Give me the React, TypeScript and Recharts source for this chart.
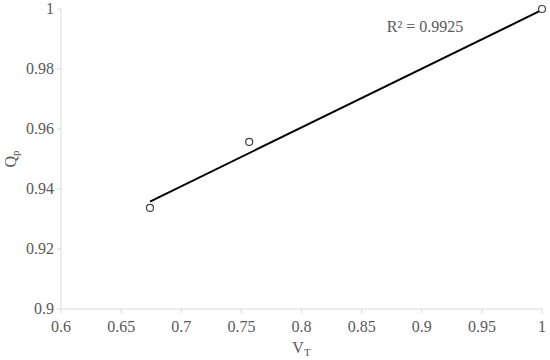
import { ScatterChart, Scatter, XAxis, YAxis, ReferenceDot } from "recharts";

const vT = [0.674, 0.7565, 1.0];
const qP = [0.9337, 0.9557, 1.0];
const trendX = [0.674, 1.0];
const trendY = [0.9358, 0.9997];
const xTicks = [0.6, 0.65, 0.7, 0.75, 0.8, 0.85, 0.9, 0.95, 1];
const yTicks = [0.9, 0.92, 0.94, 0.96, 0.98, 1];

const points = vT.map((x, i) => ({ x, y: qP[i] }));
const trend = trendX.map((x, i) => ({ x, y: trendY[i] }));

const font = "Liberation Serif";
const textColor = "#595959";
const axisColor = "#d9d9d9";
const fs = 16;

function XTick(props: any) {
  const { x, y, payload } = props;
  return (
    <text x={x} y={y + 17} textAnchor="middle" fill={textColor} fontFamily={font} fontSize={fs}>
      {String(payload.value)}
    </text>
  );
}

function YTick(props: any) {
  const { x, y, payload } = props;
  return (
    <text x={x - 1} y={y + 5} textAnchor="end" fill={textColor} fontFamily={font} fontSize={fs}>
      {String(payload.value)}
    </text>
  );
}

function Circle(props: any) {
  const { cx, cy } = props;
  return <circle cx={cx} cy={cy} r={3.5} fill="#fff" stroke="#404040" strokeWidth={1.2} />;
}

export default function App() {
  return (
    <div style={{ position: "absolute", left: 0, top: 0, width: 550, height: 360, background: "#fff" }}>
      <ScatterChart width={550} height={360} margin={{ top: 9, right: 8, bottom: 0, left: 0 }}>
        <XAxis
          type="number"
          dataKey="x"
          domain={[0.6, 1]}
          ticks={xTicks}
          height={51}
          stroke={axisColor}
          tickSize={4}
          tick={<XTick />}
          label={(p: any) => {
            const vb = p.viewBox;
            const cx = vb.x + vb.width / 2;
            return (
              <text x={cx} y={353} textAnchor="middle" fill={textColor} fontFamily={font} fontSize={fs}>
                V<tspan fontSize={11} dy={3}>T</tspan>
              </text>
            );
          }}
        />
        <YAxis
          type="number"
          dataKey="y"
          domain={[0.9, 1]}
          ticks={yTicks}
          width={61}
          stroke={axisColor}
          tickSize={4}
          tick={<YTick />}
          label={(p: any) => {
            const vb = p.viewBox;
            const cy = vb.y + vb.height / 2;
            return (
              <text
                x={16}
                y={cy}
                textAnchor="middle"
                fill={textColor}
                fontFamily={font}
                fontSize={fs}
                transform={`rotate(-90, 16, ${cy})`}
              >
                Q<tspan fontSize={11} dy={3}>p</tspan>
              </text>
            );
          }}
        />
        <Scatter
          data={trend}
          line={{ stroke: "#000", strokeWidth: 2 }}
          shape={() => <g />}
          isAnimationActive={false}
        />
        <Scatter data={points} shape={Circle} isAnimationActive={false} />
        <ReferenceDot
          x={0.9027}
          y={0.994}
          r={0}
          label={(p: any) => {
            const vb = p.viewBox;
            return (
              <text
                x={vb.x + (vb.width || 0) / 2}
                y={vb.y + (vb.height || 0) / 2 + 5}
                textAnchor="middle"
                fill={textColor}
                fontFamily={font}
                fontSize={fs}
              >
                R² = 0.9925
              </text>
            );
          }}
        />
      </ScatterChart>
    </div>
  );
}
